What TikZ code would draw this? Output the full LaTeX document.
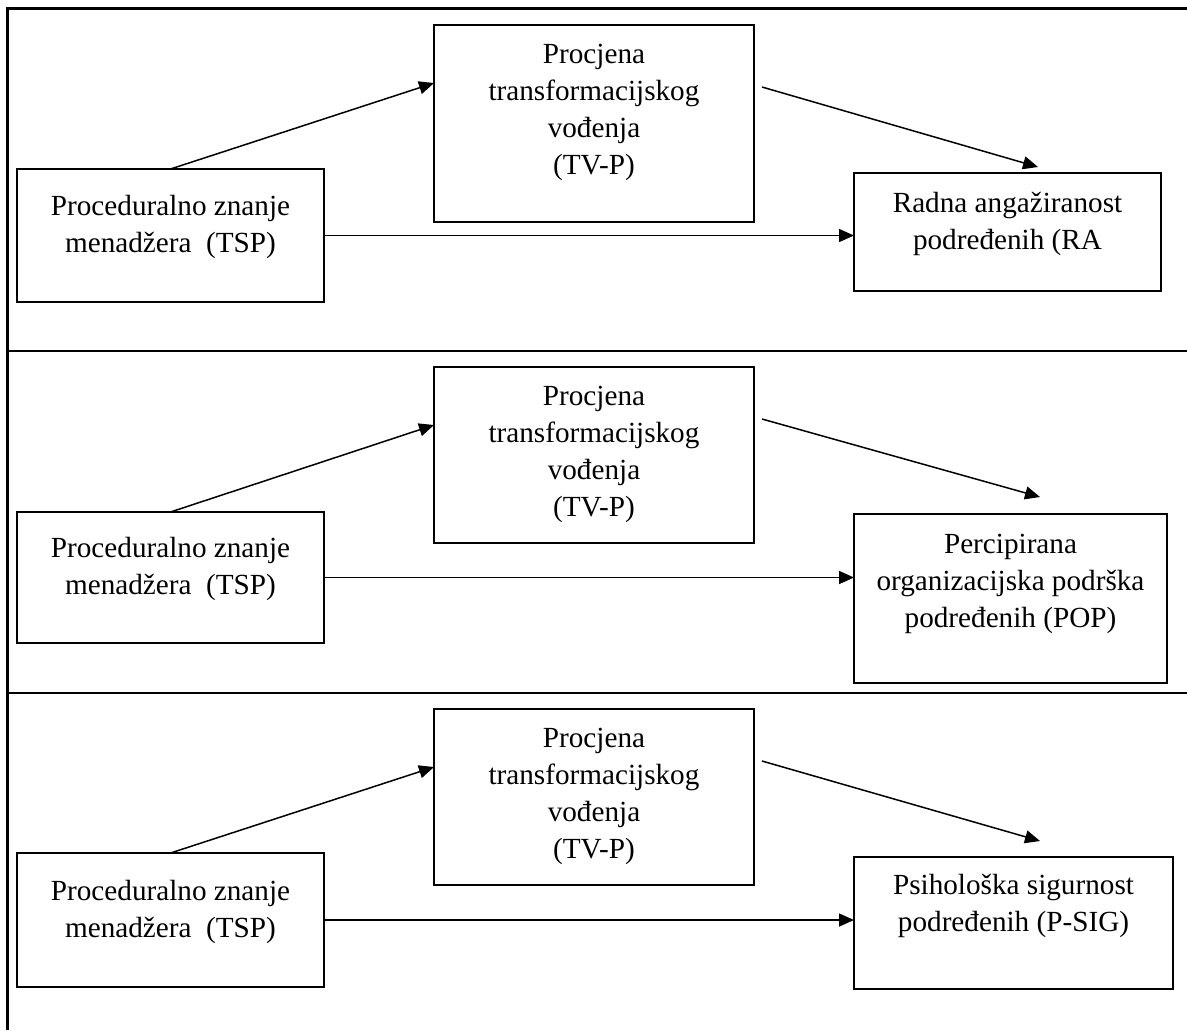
\documentclass[tikz,border=0pt]{standalone}
\usepackage{fontspec}
\setmainfont{Liberation Serif}
\usetikzlibrary{calc,arrows.meta}
\newcommand{\topstrut}{\rule{0pt}{10.5pt}}
\begin{document}
\begin{tikzpicture}[x=0.5pt,y=-0.5pt,
  box/.style={draw,line width=1.4pt,rectangle,inner sep=0pt,outer sep=0pt},
  lbl/.style={anchor=north,align=center,inner sep=0pt,font=\fontsize{14.6}{18.5}\selectfont},
  conn/.style={line width=0.75pt,-{Triangle[length=7.5pt,width=6.5pt]}},
  frame/.style={line width=1.4pt}]
\useasboundingbox (0,0) rectangle (1187,1030);
% frame
\coordinate (ftl) at (7.7,8.7);
\coordinate (ftr) at (1187,8.7);
\coordinate (fbl) at (7.7,1030);
\coordinate (d1l) at (7.7,351);
\coordinate (d1r) at (1187,351);
\coordinate (d2l) at (7.7,693);
\coordinate (d2r) at (1187,693);
\draw[frame] (ftr) -- (ftl) -- (fbl);
\draw[frame] (d1l) -- (d1r);
\draw[frame] (d2l) -- (d2r);

% ---------- panel 1
\node[box,minimum width=153.5pt,minimum height=66.5pt] (tsp1) at (170.5,235.5) {};
\node[box,minimum width=160pt,minimum height=98.5pt] (tv1) at (594,123.5) {};
\node[box,minimum width=153.5pt,minimum height=59pt] (ra1) at (1007.5,232) {};
\node[lbl] (tsp1t) at (170.5,194) {\topstrut Proceduralno znanje\\menadžera\ \ (TSP)};
\node[lbl] (tv1t) at (594,42) {\topstrut Procjena\\transformacijskog\\vođenja\\(TV-P)};
\node[lbl] (ra1t) at (1007.5,191) {\topstrut Radna angažiranost\\podređenih (RA};
\coordinate (a1e) at ($(tv1.north west)+(0,58)$);
\coordinate (b1s) at ($(tv1.north east)+(8,62)$);
\coordinate (b1e) at ($(ra1.north west)+(184,-6)$);
\draw[conn] (tsp1.north) -- (a1e);
\draw[conn] (b1s) -- (b1e);
\draw[conn] (tsp1.east) -- (tsp1.east -| ra1.west);

% ---------- panel 2
\node[box,minimum width=153.5pt,minimum height=65.5pt] (tsp2) at (170.5,577.5) {};
\node[box,minimum width=160pt,minimum height=88pt] (tv2) at (594,455) {};
\node[box,minimum width=156.5pt,minimum height=84.5pt] (pop) at (1010.5,598.5) {};
\node[lbl] (tsp2t) at (170.5,536) {\topstrut Proceduralno znanje\\menadžera\ \ (TSP)};
\node[lbl] (tv2t) at (594,384) {\topstrut Procjena\\transformacijskog\\vođenja\\(TV-P)};
\node[lbl] (popt) at (1010.5,532) {\topstrut Percipirana\\organizacijska podrška\\podređenih (POP)};
\coordinate (a2e) at ($(tv2.north west)+(0,58)$);
\coordinate (b2s) at ($(tv2.north east)+(8,52)$);
\coordinate (b2e) at ($(pop.north west)+(186,-17)$);
\draw[conn] (tsp2.north) -- (a2e);
\draw[conn] (b2s) -- (b2e);
\draw[conn] (tsp2.east) -- (tsp2.east -| pop.west);

% ---------- panel 3
\node[box,minimum width=153.5pt,minimum height=67pt] (tsp3) at (170.5,920) {};
\node[box,minimum width=160pt,minimum height=88pt] (tv3) at (594,797) {};
\node[box,minimum width=159.5pt,minimum height=66pt] (psig) at (1013.5,923) {};
\node[lbl] (tsp3t) at (170.5,879) {\topstrut Proceduralno znanje\\menadžera\ \ (TSP)};
\node[lbl] (tv3t) at (594,726) {\topstrut Procjena\\transformacijskog\\vođenja\\(TV-P)};
\node[lbl] (psigt) at (1013.5,873) {\topstrut Psihološka sigurnost\\podređenih (P-SIG)};
\coordinate (a3e) at ($(tv3.north west)+(0,58)$);
\coordinate (b3s) at ($(tv3.north east)+(8,52)$);
\coordinate (b3e) at ($(psig.north west)+(186,-16)$);
\draw[conn] (tsp3.north) -- (a3e);
\draw[conn] (b3s) -- (b3e);
\draw[conn] (tsp3.east) -- (tsp3.east -| psig.west);
\end{tikzpicture}
\end{document}
